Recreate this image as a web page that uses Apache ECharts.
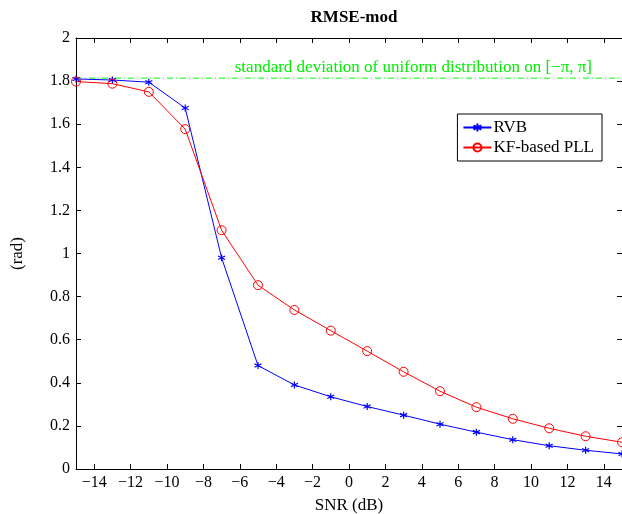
<!DOCTYPE html>
<html>
<head>
<meta charset="utf-8">
<script src="https://cdn.jsdelivr.net/npm/echarts@6/dist/echarts.min.js"></script>
<style>html,body{margin:0;padding:0;background:#fff;}#c{width:622px;height:514px;}</style>
</head>
<body>
<div id="c"></div>
<script>
const snr = [-15, -13, -11, -9, -7, -5, -3, -1, 1, 3, 5, 7, 9, 11, 13, 15];
const rvb = [1.81, 1.805, 1.795, 1.675, 0.98, 0.48, 0.39, 0.335, 0.29, 0.25, 0.208, 0.171, 0.136, 0.108, 0.087, 0.07];
const kfPll = [1.798, 1.788, 1.75, 1.577, 1.108, 0.853, 0.738, 0.642, 0.547, 0.451, 0.361, 0.287, 0.233, 0.189, 0.152, 0.124];
const xTicks = [-14, -12, -10, -8, -6, -4, -2, 0, 2, 4, 6, 8, 10, 12, 14];
const xRange = [-15, 15];
const uniformStd = Math.PI / Math.sqrt(3);
const refText = 'standard deviation of uniform distribution on [\u2212\u03C0, \u03C0]';

const font = 'Liberation Serif';
const asterisk = 'path://M0,-10 L0,10 M-8.66,-5 L8.66,5 M-8.66,5 L8.66,-5';
const circlePath = 'path://M10,0 A10,10 0 1 1 -10,0 A10,10 0 1 1 10,0 Z';
const fmtMinus = v => String(v).replace('-', '\u2212');

const chart = echarts.init(document.getElementById('c'), null, {renderer: 'canvas'});
const tickCommon = {inside: true, length: 5, lineStyle: {color: '#000', width: 1}};
chart.setOption({
  animation: false,
  backgroundColor: '#fff',
  textStyle: {fontFamily: font},
  title: {
    text: 'RMSE-mod', left: 349, top: 4, textAlign: 'center',
    textStyle: {fontFamily: font, fontWeight: 'bold', fontSize: 17, color: '#000'}
  },
  grid: {left: 76, right: 0, top: 38, bottom: 45, containLabel: false, outerBoundsMode: 'none'},
  legend: {
    orient: 'vertical', right: 20, top: 114,
    padding: [5, 8, 5, 5],
    itemGap: 3,
    itemWidth: 28, itemHeight: 10,
    borderColor: '#000', borderWidth: 1, borderRadius: 0,
    textStyle: {fontFamily: font, fontSize: 17, color: '#000', padding: [0, 0, 0, -3]},
    data: ['RVB', 'KF-based PLL']
  },
  xAxis: [{
    type: 'value', min: xRange[0], max: xRange[1], position: 'bottom',
    name: 'SNR (dB)', nameLocation: 'middle', nameGap: 28,
    nameTextStyle: {fontFamily: font, fontSize: 17, color: '#000'},
    axisLine: {onZero: false, lineStyle: {color: '#000', width: 1}},
    axisTick: Object.assign({customValues: xTicks}, tickCommon),
    axisLabel: {customValues: xTicks, formatter: fmtMinus, fontFamily: font, fontSize: 16, color: '#000', margin: 6},
    splitLine: {show: false}
  }, {
    type: 'value', min: xRange[0], max: xRange[1], position: 'top',
    axisLine: {onZero: false, lineStyle: {color: '#000', width: 1}},
    axisTick: Object.assign({customValues: xTicks}, tickCommon),
    axisLabel: {show: false},
    splitLine: {show: false}
  }],
  yAxis: [{
    type: 'value', min: 0, max: 2, interval: 0.2, position: 'left',
    name: '(rad)', nameLocation: 'middle', nameGap: 50, nameRotate: 90,
    nameTextStyle: {fontFamily: font, fontSize: 17, color: '#000'},
    axisLine: {show: true, onZero: false, lineStyle: {color: '#000', width: 1}},
    axisTick: tickCommon,
    axisLabel: {fontFamily: font, fontSize: 16, color: '#000', margin: 6},
    splitLine: {show: false}
  }, {
    type: 'value', min: 0, max: 2, interval: 0.2, position: 'right',
    axisLine: {show: true, onZero: false, lineStyle: {color: '#000', width: 1}},
    axisTick: tickCommon,
    axisLabel: {show: false},
    splitLine: {show: false}
  }],
  series: [{
    name: 'ref', type: 'line', silent: true,
    color: '#00ff00',
    data: xRange.map(x => [x, uniformStd]),
    showSymbol: false, symbol: 'none',
    lineStyle: {color: '#00ff00', width: 1, type: [6, 3, 1, 3]},
    markLine: {
      silent: true, symbol: 'none',
      lineStyle: {color: 'rgba(255,255,255,0)', width: 1},
      label: {
        show: true, position: 'insideEndTop', formatter: refText,
        distance: [30, 3],
        fontFamily: font, fontSize: 17, color: '#00ee00', opacity: 1
      },
      data: [{yAxis: uniformStd}]
    }
  }, {
    name: 'RVB', type: 'line',
    data: snr.map((x, i) => [x, rvb[i]]),
    symbol: asterisk, symbolSize: 7, showSymbol: true,
    lineStyle: {color: '#0000ff', width: 1},
    itemStyle: {color: '#0000ff', borderColor: '#0000ff', borderWidth: 1.2}
  }, {
    name: 'KF-based PLL', type: 'line',
    data: snr.map((x, i) => [x, kfPll[i]]),
    symbol: circlePath, symbolSize: 9, showSymbol: true,
    lineStyle: {color: '#ff0000', width: 1},
    itemStyle: {color: 'rgba(0,0,0,0)', borderColor: '#ff0000', borderWidth: 1}
  }]
});
</script>
</body>
</html>
